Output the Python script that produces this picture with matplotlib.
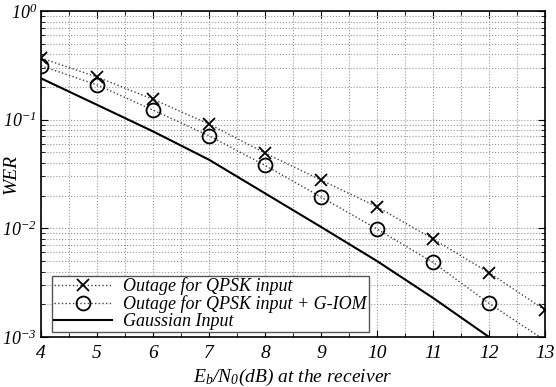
import matplotlib
matplotlib.use("Agg")
import matplotlib.pyplot as plt
import numpy as np
from matplotlib.ticker import FixedLocator, FixedFormatter, LogLocator, NullFormatter

plt.rcParams['mathtext.fontset'] = 'custom'
plt.rcParams['mathtext.rm'] = 'Liberation Serif:italic'
plt.rcParams['mathtext.it'] = 'Liberation Serif:italic'
plt.rcParams['font.family'] = ['Liberation Serif', 'DejaVu Serif']

snr = [4, 5, 6, 7, 8, 9, 10, 11, 12, 13]
wer_qpsk = [0.369, 0.247, 0.154, 0.0912, 0.0493, 0.0278, 0.0158, 0.00798, 0.00391, 0.00177]
wer_qpsk_giom = [0.313, 0.209, 0.1225, 0.0711, 0.038, 0.0194, 0.00986, 0.00486, 0.00204, 0.00093]
snr_gauss = [4, 5, 6, 7, 8, 9, 10, 11, 12]
wer_gauss = [0.240, 0.137, 0.078, 0.0428, 0.021, 0.0103, 0.0050, 0.00229, 0.00100]

labels = ['Outage for QPSK input', 'Outage for QPSK input + G-IOM', 'Gaussian Input']
xticks = [4, 5, 6, 7, 8, 9, 10, 11, 12, 13]
yticks = [1e-3, 1e-2, 1e-1, 1e0]
ytick_labels = ['$10^{-3}$', '$10^{-2}$', '$10^{-1}$', '$10^{0}$']

fig = plt.figure(figsize=(5.56, 3.87), dpi=100)
ax = fig.add_axes([41/556, 50/387, 504/556, 326/387])

ax.plot(snr, wer_qpsk, color='#444444', linestyle=':', linewidth=1.0,
        marker='x', markersize=8, markeredgewidth=1.3, markeredgecolor='black',
        label=labels[0])
ax.plot(snr, wer_qpsk_giom, color='#444444', linestyle=':', linewidth=1.0,
        marker='o', markersize=10, markeredgewidth=1.3, markeredgecolor='black',
        markerfacecolor='none', markevery=list(range(9)), label=labels[1])
ax.plot(snr_gauss, wer_gauss, color='black', linestyle='-', linewidth=1.5,
        label=labels[2])

ax.set_yscale('log')
ax.set_xlim(4, 13)
ax.set_ylim(1e-3, 1e0)

ax.xaxis.set_major_locator(FixedLocator(xticks))
ax.xaxis.set_minor_locator(FixedLocator(np.arange(4.5, 13, 1.0)))
ax.set_xticklabels([str(t) for t in xticks])
ax.yaxis.set_major_locator(FixedLocator(yticks))
ax.yaxis.set_major_formatter(FixedFormatter(ytick_labels))
ax.yaxis.set_minor_locator(LogLocator(base=10, subs=np.arange(2, 10), numticks=20))
ax.yaxis.set_minor_formatter(NullFormatter())

ax.grid(True, which='both', color='#999999', linestyle=':', linewidth=0.8)
ax.tick_params(which='major', direction='in', length=5, width=0.8, top=True, right=True,
               labelsize=14, pad=6)
ax.tick_params(axis='y', which='major', labelsize=13, pad=3)
ax.tick_params(which='minor', direction='in', length=3, width=0.6, top=True, right=True)
for lab in ax.get_xticklabels():
    lab.set_fontstyle('italic')
for sp in ax.spines.values():
    sp.set_linewidth(1.2)

ax.set_xlabel('$E_b/N_0(dB)$ at the receiver', fontsize=14, fontstyle='italic', labelpad=3)
ax.set_ylabel('WER', fontsize=14, fontstyle='italic')
ax.yaxis.set_label_coords(-21/504, 0.5)

leg = ax.legend(loc='lower left', bbox_to_anchor=(0.0218, 0.015),
                prop={'style': 'italic', 'size': 13}, frameon=True, fancybox=False,
                edgecolor='#555555', framealpha=1, handlelength=3.2, borderpad=0.1,
                labelspacing=0.0, handletextpad=0.65, borderaxespad=0.0)
leg.get_frame().set_linewidth(1.0)

fig.savefig('out.png', dpi=100)
